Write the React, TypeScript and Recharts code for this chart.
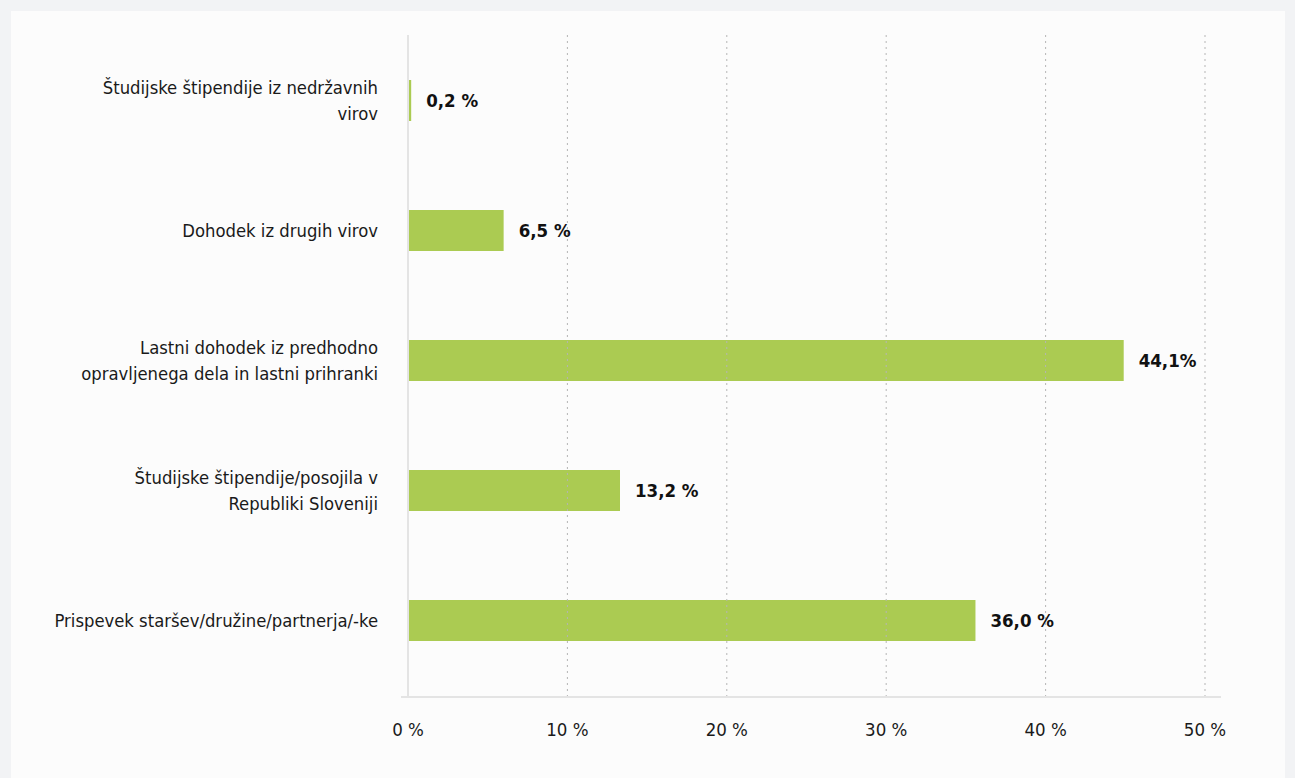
import React from "react";
import {
  BarChart,
  Bar,
  XAxis,
  YAxis,
  ReferenceLine,
  LabelList,
} from "recharts";

// kategorije (od zgoraj navzdol), \n = prelom vrstice
const categories = [
  "Študijske štipendije iz nedržavnih\nvirov",
  "Dohodek iz drugih virov",
  "Lastni dohodek iz predhodno\nopravljenega dela in lastni prihranki",
  "Študijske štipendije/posojila v\nRepubliki Sloveniji",
  "Prispevek staršev/družine/partnerja/-ke",
];
// dolžine stolpcev, odčitane s slike
const barValues = [0.2, 6.0, 44.9, 13.3, 35.6];
// napisi ob stolpcih
const valueLabels = ["0,2 %", "6,5 %", "44,1%", "13,2 %", "36,0 %"];
const xTicks = [0, 10, 20, 30, 40, 50];

const data = categories.map((name, i) => ({
  name,
  value: barValues[i],
  label: valueLabels[i],
}));

const FONT = '"Liberation Sans Narrow", "DejaVu Sans Condensed", "Noto Sans", sans-serif';
const GREEN = "#abcb52";

const CategoryTick = (props: any) => {
  const { x, y, payload } = props;
  const lines: string[] = String(payload.value).split("\n");
  const lh = 26;
  const start = y - ((lines.length - 1) * lh) / 2;
  return (
    <text
      x={x}
      y={start}
      textAnchor="end"
      fill="#1a1a1a"
      fontSize={18.3}
      fontFamily={FONT}
    >
      {lines.map((l, i) => (
        <tspan key={i} x={x} y={start + i * lh} dominantBaseline="central">
          {l}
        </tspan>
      ))}
    </text>
  );
};

const ValueLabel = (props: any) => {
  const { x, y, width, height, index } = props;
  return (
    <text
      x={x + width + 15}
      y={y + height / 2}
      dominantBaseline="central"
      fontSize={18.5}
      fontWeight="bold"
      fontFamily={FONT}
      fill="#111"
    >
      {data[index].label}
    </text>
  );
};

export default function App() {
  return (
    <div
      style={{
        position: "absolute",
        left: 0,
        top: 0,
        width: 1295,
        height: 778,
        background: "#f2f3f5",
        overflow: "hidden",
      }}
    >
      <div
        style={{
          position: "absolute",
          left: 11,
          top: 11,
          width: 1274,
          height: 767,
          background: "#fcfcfc",
        }}
      />
      <div style={{ position: "absolute", left: 0, top: 0 }}>
        <BarChart
          width={1295}
          height={778}
          data={data}
          layout="vertical"
          margin={{ top: 35, right: 74, bottom: 41, left: 10 }}
        >
          <XAxis
            type="number"
            domain={[0, 50]}
            ticks={xTicks}
            padding={{ left: 7, right: 16 }}
            height={40}
            tickFormatter={(v: number) => `${v} %`}
            axisLine={{ stroke: "#e4e4e4", strokeWidth: 2 }}
            tickLine={false}
            tickSize={0}
            tickMargin={26}
            tick={{ fontSize: 18.5, fontFamily: FONT, fill: "#1a1a1a" }}
          />
          <YAxis
            type="category"
            dataKey="name"
            width={391}
            axisLine={false}
            tickLine={false}
            tickSize={0}
            tickMargin={23}
            padding={{ top: 0, bottom: 12 }}
            tick={<CategoryTick />}
            interval={0}
          />
          {xTicks.slice(1).map((t) => (
            <ReferenceLine
              key={t}
              x={t}
              stroke="#b5b5b5"
              strokeDasharray="2 4"
            />
          ))}
          <ReferenceLine x={0} stroke="#e4e4e4" strokeWidth={2} />
          <Bar
            dataKey="value"
            fill={GREEN}
            barSize={41}
            isAnimationActive={false}
          >
            <LabelList dataKey="label" content={<ValueLabel />} />
          </Bar>
        </BarChart>
      </div>
    </div>
  );
}
